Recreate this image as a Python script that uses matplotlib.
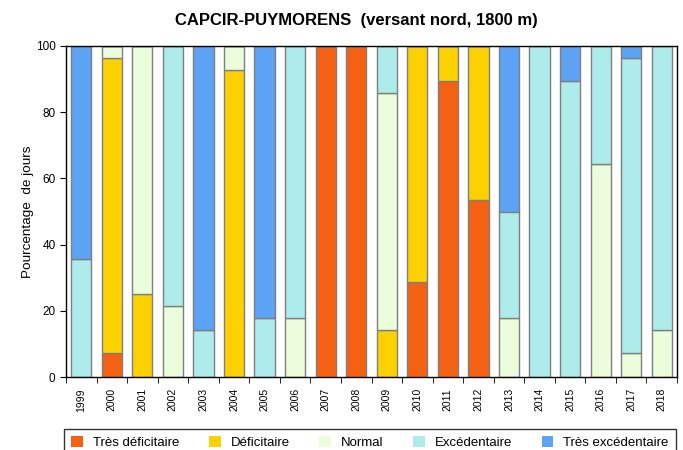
import numpy as np
import matplotlib.pyplot as plt
from matplotlib.patches import Patch

plt.rcParams['font.family'] = ['Liberation Sans', 'DejaVu Sans']

years = [str(y) for y in range(1999, 2019)]

# percentage of days in each class, per year
tres_deficitaire = [0, 7.1, 0, 0, 0, 0, 0, 0, 100, 100, 0, 28.6, 89.3, 53.6, 0, 0, 0, 0, 0, 0]
deficitaire = [0, 89.3, 25.0, 0, 0, 92.9, 0, 0, 0, 0, 14.3, 71.4, 10.7, 46.4, 0, 0, 0, 0, 0, 0]
normal = [0, 3.6, 75.0, 21.4, 0, 7.1, 0, 17.9, 0, 0, 71.4, 0, 0, 0, 17.9, 0, 0, 64.3, 7.1, 14.3]
excedentaire = [35.7, 0, 0, 78.6, 14.3, 0, 17.9, 82.1, 0, 0, 14.3, 0, 0, 0, 32.1, 100, 89.3, 35.7, 89.3, 85.7]
tres_excedentaire = [64.3, 0, 0, 0, 85.7, 0, 82.1, 0, 0, 0, 0, 0, 0, 0, 50.0, 0, 10.7, 0, 3.6, 0]

labels = ['Très déficitaire', 'Déficitaire', 'Normal', 'Excédentaire', 'Très excédentaire']
colors = ['#F46112', '#FDD100', '#EBFDDA', '#AEEBEB', '#5CA3F5']
series = [tres_deficitaire, deficitaire, normal, excedentaire, tres_excedentaire]

fig = plt.figure(figsize=(6.83, 4.5), dpi=100)
ax = fig.add_axes([66/683, 1 - 377/450, 611/683, 331/450])

x = np.arange(len(years))
bottom = np.zeros(len(years))
for vals, col in zip(series, colors):
    vals = np.array(vals)
    ax.bar(x, vals, width=0.66, bottom=bottom, color=col,
           edgecolor='#7f7f7f', linewidth=1.0)
    bottom += vals

ax.set_xlim(-0.5, len(years) - 0.5)
ax.set_ylim(0, 100)
ax.set_yticks([0, 20, 40, 60, 80, 100])
ax.tick_params(axis='y', labelsize=8.5, length=4)
ax.set_xticks(x)
ax.set_xticklabels(years, rotation=90, fontsize=7.5)
ax.tick_params(axis='x', length=0, pad=8)
ax.set_xticks(np.arange(-0.5, len(years)), minor=True)
ax.tick_params(axis='x', which='minor', length=4)
for s in ax.spines.values():
    s.set_linewidth(1.0)

ax.set_ylabel('Pourcentage  de jours', fontsize=9.7, labelpad=1)
fig.text(356/683, 1 - 20/450, 'CAPCIR-PUYMORENS  (versant nord, 1800 m)',
         ha='center', va='center', fontsize=12, fontweight='bold')

handles = [Patch(facecolor=c, edgecolor='none') for c in colors]
leg = fig.legend(handles, labels, loc='upper left', ncol=5, mode='expand',
                 bbox_to_anchor=(64/683, 1 - 429/450, 612/683, 0), borderaxespad=0,
                 fontsize=9.5, frameon=True, fancybox=False, edgecolor='black',
                 handlelength=0.9, handleheight=0.9, handletextpad=0.75,
                 borderpad=0.55, columnspacing=1.0)
leg.get_frame().set_linewidth(1.0)

fig.savefig('out.png', dpi=100)
